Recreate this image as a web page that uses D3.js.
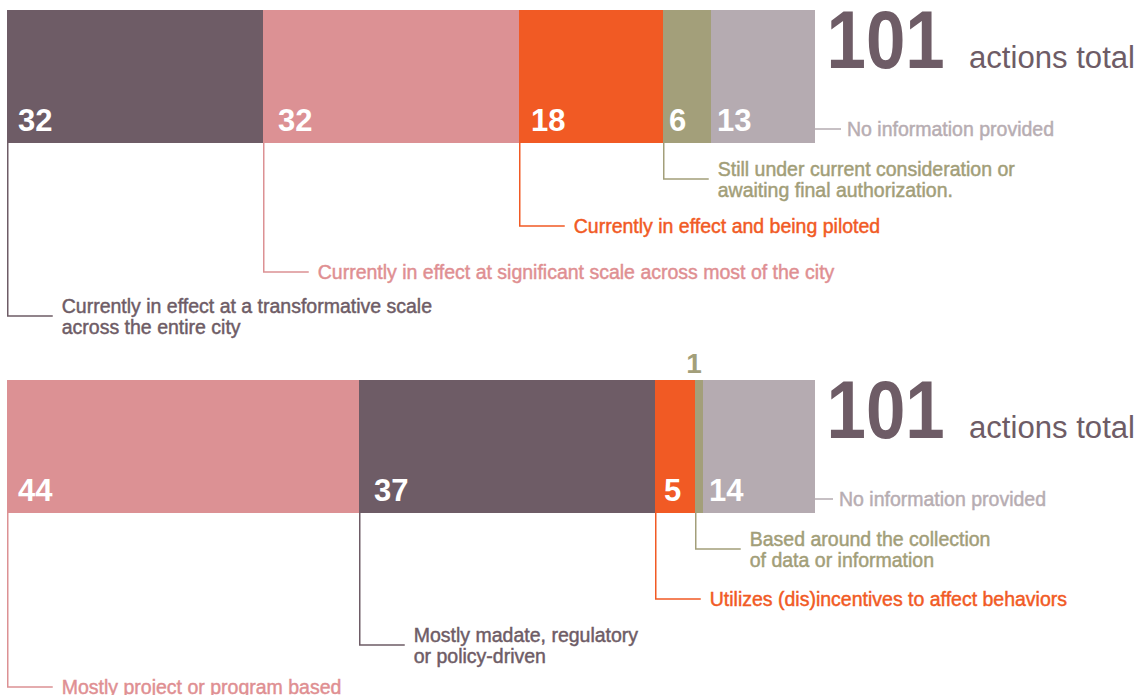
<!DOCTYPE html>
<html>
<head>
<meta charset="utf-8">
<script src="https://cdn.jsdelivr.net/npm/d3@7"></script>
<style>
  html, body { margin: 0; padding: 0; background: #ffffff; }
  svg { display: block; }
  text { font-family: "Liberation Sans", Arial, Helvetica, sans-serif; }
</style>
</head>
<body>
<svg id="chart" width="1139" height="695"></svg>
<script>
// Implementation status of the 101 actions
const statusLabels = [
  ["Currently in effect at a transformative scale", "across the entire city"],
  ["Currently in effect at significant scale across most of the city"],
  ["Currently in effect and being piloted"],
  ["Still under current consideration or", "awaiting final authorization."],
  ["No information provided"]
];
const statusValues = [32, 32, 18, 6, 13];

// Type of approach behind the 101 actions
const approachLabels = [
  ["Mostly project or program based"],
  ["Mostly madate, regulatory", "or policy-driven"],
  ["Utilizes (dis)incentives to affect behaviors"],
  ["Based around the collection", "of data or information"],
  ["No information provided"]
];
const approachValues = [44, 37, 5, 1, 14];

const totalSuffix = "actions total";

// palette
const C = {
  plum:   "#6e5c66",
  rose:   "#dc9194",
  orange: "#f15a24",
  olive:  "#a39f7a",
  grey:   "#b5abb1"
};
const statusColors   = [C.plum, C.rose, C.orange, C.olive, C.grey];
const approachColors = [C.rose, C.plum, C.orange, C.olive, C.grey];
const textColors = {
  [C.plum]: "#6e5c66", [C.rose]: "#df8f92", [C.orange]: "#f15a24",
  [C.olive]: "#a29e78", [C.grey]: "#b7adb2"
};

const svg = d3.select("#chart");

function drawPanel(cfg) {
  const { values, labels, colors, top, drops, numPad, greyGap } = cfg;
  const total = d3.sum(values);
  const barH = 133;
  const bottom = top + barH;

  const x = d3.scaleLinear().domain([0, total]).range([7, 815]);
  const starts = d3.cumsum([0, ...values]).slice(0, values.length);
  const segs = values.map((v, i) => ({
    v, i, x0: starts[i], x1: starts[i] + v, color: colors[i], lines: labels[i]
  }));

  const g = svg.append("g");

  g.selectAll("rect.seg").data(segs).join("rect")
    .attr("class", "seg")
    .attr("x", d => x(d.x0))
    .attr("y", top)
    .attr("width", d => x(d.x1) - x(d.x0))
    .attr("height", barH)
    .attr("fill", d => d.color);

  // value labels: inside the bar, or above it when the segment is too thin
  segs.forEach((d, k) => {
    const w = x(d.x1) - x(d.x0);
    if (w >= 20) {
      g.append("text")
        .attr("x", x(d.x0) + numPad[k])
        .attr("y", bottom - 12)
        .attr("fill", "#ffffff")
        .attr("font-size", 31)
        .attr("font-weight", 700)
        .text(d.v);
    } else {
      g.append("text")
        .attr("x", x(d.x0) - 1)
        .attr("y", top - 7)
        .attr("text-anchor", "middle")
        .attr("fill", d.color)
        .attr("font-size", 28)
        .attr("font-weight", 700)
        .text(d.v);
    }
  });

  // leader lines and category labels
  const lineH = 21;
  segs.forEach((d, k) => {
    const last = k === segs.length - 1;
    const tc = textColors[d.color];
    let lx, ly, path;
    if (last) {
      ly = bottom - 14;
      const x0 = x(d.x1);
      path = `M${x0},${ly}H${x0 + greyGap}`;
      lx = x0 + greyGap + 6;
    } else {
      const vx = Math.round(x(d.x0)) + 0.75;
      ly = drops[k];
      path = `M${vx},${bottom}V${ly}H${vx + 45}`;
      lx = vx + 54;
    }
    g.append("path")
      .attr("d", path)
      .attr("fill", "none")
      .attr("stroke", d.color)
      .attr("stroke-width", 1.5);

    const n = d.lines.length;
    const t = g.append("text")
      .attr("x", lx)
      .attr("fill", tc)
      .attr("font-size", 19.5)
      .attr("stroke", tc)
      .attr("stroke-width", 0.45)
      .attr("paint-order", "stroke");
    d.lines.forEach((line, j) => {
      t.append("tspan")
        .attr("x", lx)
        .attr("y", ly + (j - (n - 1) / 2) * lineH + 7)
        .text(line);
    });
  });

  // total
  g.append("text")
    .attr("transform", `translate(826.5,${top + 58}) scale(0.875,1)`)
    .attr("fill", C.plum)
    .attr("font-size", 81)
    .attr("font-weight", 700)
    .text(total);
  g.append("text")
    .attr("x", 969)
    .attr("y", top + 58)
    .attr("fill", C.plum)
    .attr("font-size", 31)
    .attr("font-family", "Roboto, 'Liberation Sans', sans-serif")
    .attr("font-weight", 300)
    .attr("textLength", 166)
    .attr("lengthAdjust", "spacingAndGlyphs")
    .text(totalSuffix);
}

drawPanel({
  values: statusValues, labels: statusLabels, colors: statusColors,
  top: 10, drops: [316, 272, 226, 179], numPad: [11, 15, 12, 6, 6], greyGap: 26
});
drawPanel({
  values: approachValues, labels: approachLabels, colors: approachColors,
  top: 380, drops: [687, 645, 599, 549], numPad: [11, 15, 9, 0, 6], greyGap: 18
});
</script>
</body>
</html>
